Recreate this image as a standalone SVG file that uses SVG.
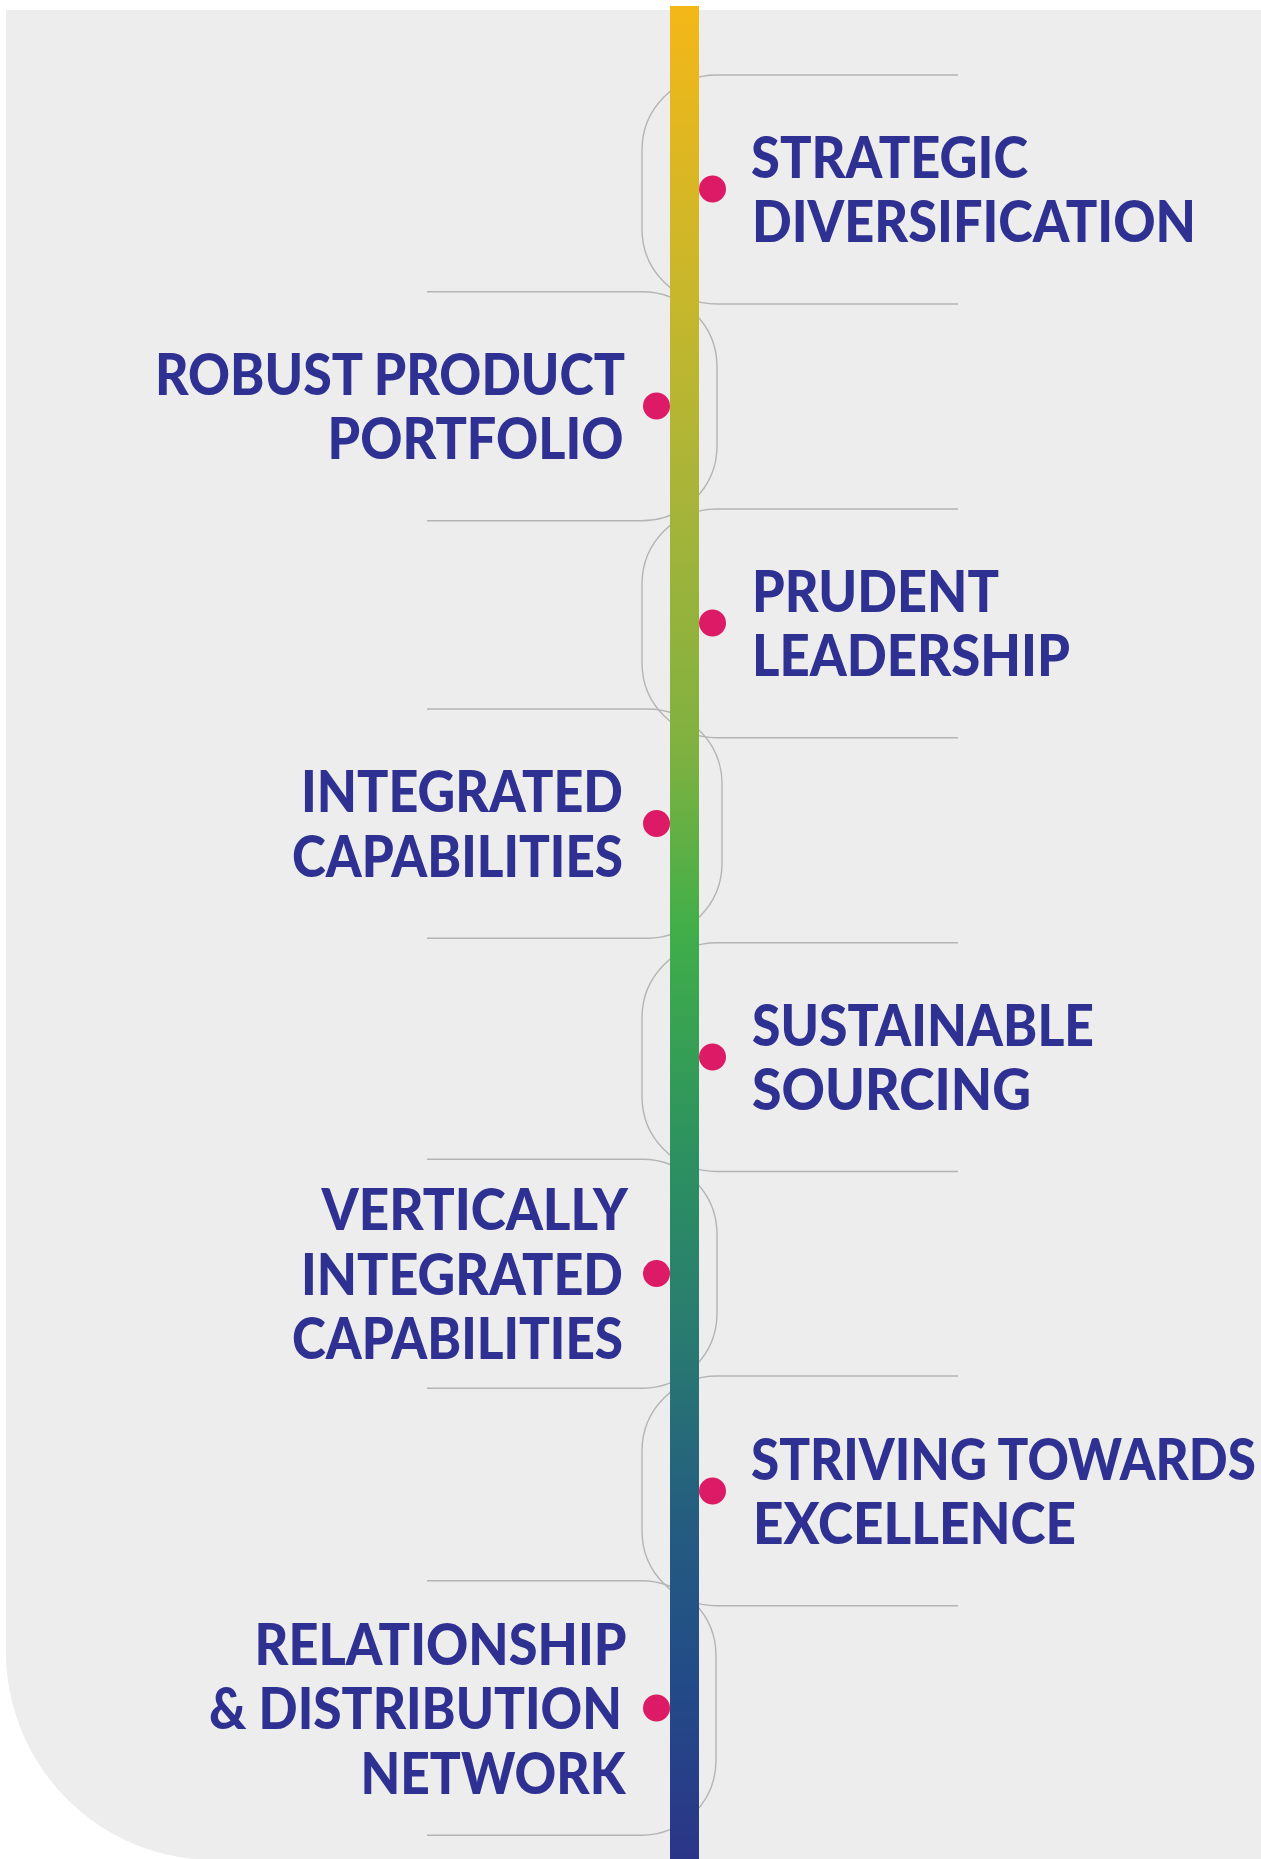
<svg xmlns="http://www.w3.org/2000/svg" width="1261" height="1859" viewBox="0 0 1261 1859">
  <defs>
    <linearGradient id="barGrad" gradientUnits="userSpaceOnUse" x1="0" y1="6" x2="0" y2="1859">
      <stop offset="0" stop-color="#F4B718"/>
      <stop offset="0.16" stop-color="#C6B72C"/>
      <stop offset="0.27" stop-color="#A6B439"/>
      <stop offset="0.40" stop-color="#80B140"/>
      <stop offset="0.50" stop-color="#40AE49"/>
      <stop offset="0.62" stop-color="#2C9160"/>
      <stop offset="0.72" stop-color="#297A71"/>
      <stop offset="0.82" stop-color="#245C80"/>
      <stop offset="0.90" stop-color="#224C87"/>
      <stop offset="1" stop-color="#2B3588"/>
    </linearGradient>
    <style>
      .bg { fill: #EDEDED; }
      .bracket { fill: none; stroke: #B4B4B4; stroke-width: 1.4; }
      .dot { fill: #DC1A65; }
      .label { font-family: "Lato", "Liberation Sans", sans-serif; font-weight: 900; font-size: 58px; fill: #2E3192; }
    </style>
  </defs>

  <rect x="0" y="0" width="1261" height="1859" fill="#FFFFFF"/>
  <path class="bg" d="M6,10 H1261 V1860 H214 A208,208 0 0 1 6,1652 Z"/>

  <g id="connectors">
    <path class="bracket" d="M958,75 H717 A75,75 0 0 0 642,150 V229 A75,75 0 0 0 717,304 H958"/>
    <path class="bracket" d="M427,291.7 H642 A75,75 0 0 1 717,366.7 V445.7 A75,75 0 0 1 642,520.7 H427"/>
    <path class="bracket" d="M958,509 H717 A75,75 0 0 0 642,584 V662.7 A75,75 0 0 0 717,737.7 H958"/>
    <path class="bracket" d="M427,709 H647 A75,75 0 0 1 722,784 V863.3 A75,75 0 0 1 647,938.3 H427"/>
    <path class="bracket" d="M958,942.7 H717 A75,75 0 0 0 642,1017.7 V1096.5 A75,75 0 0 0 717,1171.5 H958"/>
    <path class="bracket" d="M427,1159.3 H642 A75,75 0 0 1 717,1234.3 V1313.3 A75,75 0 0 1 642,1388.3 H427"/>
    <path class="bracket" d="M958,1376 H717 A75,75 0 0 0 642,1451 V1530.7 A75,75 0 0 0 717,1605.7 H958"/>
    <path class="bracket" d="M427,1580.7 H641 A75,75 0 0 1 716,1655.7 V1760.3 A75,75 0 0 1 641,1835.3 H427"/>
  </g>

  <g id="timeline">
    <rect x="670" y="6" width="29" height="1853" fill="url(#barGrad)"/>
  </g>

  <g id="node-strategic-diversification">
    <circle class="dot" cx="712.5" cy="189" r="13.5"/>
    <text class="label" x="751" y="177.5" textLength="277" lengthAdjust="spacingAndGlyphs">STRATEGIC</text>
    <text class="label" x="752" y="242" textLength="444" lengthAdjust="spacingAndGlyphs">DIVERSIFICATION</text>
  </g>

  <g id="node-robust-product-portfolio">
    <circle class="dot" cx="656.5" cy="406" r="13.5"/>
    <text class="label" x="155" y="394.5" textLength="470" lengthAdjust="spacingAndGlyphs">ROBUST PRODUCT</text>
    <text class="label" x="327.5" y="459" textLength="296" lengthAdjust="spacingAndGlyphs">PORTFOLIO</text>
  </g>

  <g id="node-prudent-leadership">
    <circle class="dot" cx="712.5" cy="623" r="13.5"/>
    <text class="label" x="752" y="611.5" textLength="247" lengthAdjust="spacingAndGlyphs">PRUDENT</text>
    <text class="label" x="752" y="676" textLength="318" lengthAdjust="spacingAndGlyphs">LEADERSHIP</text>
  </g>

  <g id="node-integrated-capabilities">
    <circle class="dot" cx="656.5" cy="823.5" r="13.5"/>
    <text class="label" x="301" y="812" textLength="322" lengthAdjust="spacingAndGlyphs">INTEGRATED</text>
    <text class="label" x="292" y="876.5" textLength="331" lengthAdjust="spacingAndGlyphs">CAPABILITIES</text>
  </g>

  <g id="node-sustainable-sourcing">
    <circle class="dot" cx="712.5" cy="1057" r="13.5"/>
    <text class="label" x="752" y="1045.5" textLength="342" lengthAdjust="spacingAndGlyphs">SUSTAINABLE</text>
    <text class="label" x="752" y="1110" textLength="279" lengthAdjust="spacingAndGlyphs">SOURCING</text>
  </g>

  <g id="node-vertically-integrated-capabilities">
    <circle class="dot" cx="656.5" cy="1273.5" r="13.5"/>
    <text class="label" x="321.5" y="1230" textLength="306.5" lengthAdjust="spacingAndGlyphs">VERTICALLY</text>
    <text class="label" x="301" y="1294.5" textLength="322" lengthAdjust="spacingAndGlyphs">INTEGRATED</text>
    <text class="label" x="292" y="1359" textLength="331" lengthAdjust="spacingAndGlyphs">CAPABILITIES</text>
  </g>

  <g id="node-striving-towards-excellence">
    <circle class="dot" cx="712.5" cy="1491" r="13.5"/>
    <text class="label" style="font-size:50px" transform="translate(751,1479.5) scale(1,1.16)" x="0" y="0" textLength="505" lengthAdjust="spacingAndGlyphs">STRIVING TOWARDS</text>
    <text class="label" x="753" y="1544" textLength="323" lengthAdjust="spacingAndGlyphs">EXCELLENCE</text>
  </g>

  <g id="node-relationship-distribution-network">
    <circle class="dot" cx="656.5" cy="1708" r="13.5"/>
    <text class="label" x="254.5" y="1664.5" textLength="372" lengthAdjust="spacingAndGlyphs">RELATIONSHIP</text>
    <text class="label" x="209" y="1729" textLength="413" lengthAdjust="spacingAndGlyphs">&amp; DISTRIBUTION</text>
    <text class="label" x="360.5" y="1793.5" textLength="265" lengthAdjust="spacingAndGlyphs">NETWORK</text>
  </g>
</svg>
